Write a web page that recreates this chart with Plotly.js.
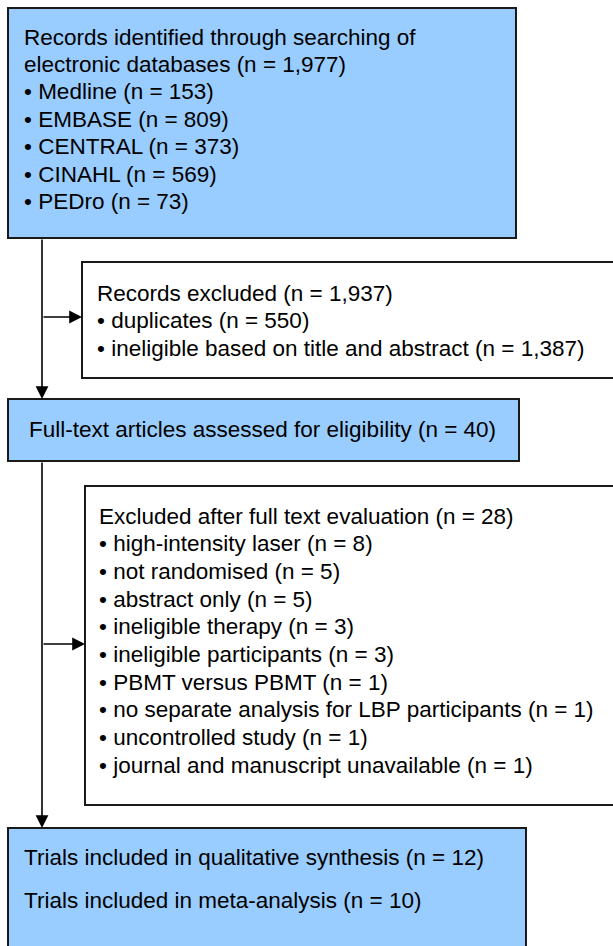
<!DOCTYPE html>
<html>
<head>
<meta charset="utf-8">
<script src="https://cdn.plot.ly/plotly-3.0.1.min.js"></script>
<style>html,body{margin:0;padding:0;background:#fff;}#chart{width:613px;height:946px;}</style>
</head>
<body>
<div id="chart"></div>
<script>
// ---- data ----
const searchTitle = ['Records identified through searching of', 'electronic databases'];
const searchTotal = 1977;
const databases = ['Medline', 'EMBASE', 'CENTRAL', 'CINAHL', 'PEDro'];
const databaseCounts = [153, 809, 373, 569, 73];

const screenExcludedTitle = 'Records excluded';
const screenExcludedTotal = 1937;
const screenReasons = ['duplicates', 'ineligible based on title and abstract'];
const screenCounts = [550, 1387];

const fullTextTitle = 'Full-text articles assessed for eligibility';
const fullTextTotal = 40;

const ftExcludedTitle = 'Excluded after full text evaluation';
const ftExcludedTotal = 28;
const ftReasons = ['high-intensity laser', 'not randomised', 'abstract only', 'ineligible therapy',
  'ineligible participants', 'PBMT versus PBMT', 'no separate analysis for LBP participants',
  'uncontrolled study', 'journal and manuscript unavailable'];
const ftCounts = [8, 5, 5, 3, 3, 1, 1, 1, 1];

const includedLabels = ['Trials included in qualitative synthesis', 'Trials included in meta-analysis'];
const includedCounts = [12, 10];

// ---- layout config (positions / styles) ----
const W = 613, H = 946;
const BLUE = '#99CCFF', EDGE = '#1a1a1a';
const FONT = {family: 'Liberation Sans, Arial, sans-serif', size: 22.5, color: '#000'};
const boxes = [
  {x0: 8, y0: 8, x1: 516, y1: 238, fill: BLUE},
  {x0: 82, y0: 262, x1: 620, y1: 378, fill: '#ffffff'},
  {x0: 8, y0: 399, x1: 519, y1: 461, fill: BLUE},
  {x0: 85, y0: 486, x1: 620, y1: 805, fill: '#ffffff'},
  {x0: 8, y0: 828, x1: 526, y1: 960, fill: BLUE}
];
const spineX = 42;

const fmt = n => n.toLocaleString('en-US');
const nTxt = n => '(n = ' + fmt(n) + ')';

const annotations = [];
function addLine(x, y, text) {
  annotations.push({x: x, y: y, xref: 'x', yref: 'y', text: text, showarrow: false,
    xanchor: 'left', yanchor: 'middle', font: FONT, borderpad: 0});
}

// Box 1 lines
const b1Lines = [searchTitle[0], searchTitle[1] + ' ' + nTxt(searchTotal)]
  .concat(databases.map((d, i) => '• ' + d + ' ' + nTxt(databaseCounts[i])));
b1Lines.forEach((t, i) => addLine(23, 37 + i * 27.4, t));

// Box 2
const b2Lines = [screenExcludedTitle + ' ' + nTxt(screenExcludedTotal)]
  .concat(screenReasons.map((r, i) => '• ' + r + ' ' + nTxt(screenCounts[i])));
b2Lines.forEach((t, i) => addLine(96, 293 + i * 27.5, t));

// Box 3
addLine(28, 429, fullTextTitle + ' ' + nTxt(fullTextTotal));

// Box 4
const b4Lines = [ftExcludedTitle + ' ' + nTxt(ftExcludedTotal)]
  .concat(ftReasons.map((r, i) => '• ' + r + ' ' + nTxt(ftCounts[i])));
b4Lines.forEach((t, i) => addLine(98, 516 + i * 27.7, t));

// Box 5
includedLabels.forEach((l, i) => addLine(23, 857 + i * 43, l + ' ' + nTxt(includedCounts[i])));

// Arrows
function addArrow(xt, yt, xh, yh) {
  annotations.push({x: xh, y: yh, ax: xt, ay: yt, xref: 'x', yref: 'y', axref: 'x', ayref: 'y',
    text: '', showarrow: true, arrowhead: 2, arrowsize: 1.6, arrowwidth: 1.6, arrowcolor: '#000',
    standoff: 0, startstandoff: 0});
}
addArrow(spineX, boxes[0].y1, spineX, boxes[2].y0);
addArrow(spineX, 317, boxes[1].x0, 317);
addArrow(spineX, boxes[2].y1, spineX, boxes[4].y0);
addArrow(spineX, 644, boxes[3].x0, 644);

const shapes = boxes.map(b => ({type: 'rect', xref: 'x', yref: 'y', x0: b.x0, y0: b.y0, x1: b.x1, y1: b.y1,
  fillcolor: b.fill, line: {color: EDGE, width: 2}, layer: 'below'}));

const layout = {
  width: W, height: H,
  margin: {l: 0, r: 0, t: 0, b: 0},
  paper_bgcolor: '#fff', plot_bgcolor: '#fff',
  xaxis: {range: [0, W], visible: false, fixedrange: true},
  yaxis: {range: [H, 0], visible: false, fixedrange: true},
  shapes: shapes,
  annotations: annotations,
  showlegend: false
};

Plotly.newPlot('chart', [{x: [], y: [], type: 'scatter', mode: 'markers', hoverinfo: 'skip'}], layout,
  {displayModeBar: false, staticPlot: true});
</script>
</body>
</html>
